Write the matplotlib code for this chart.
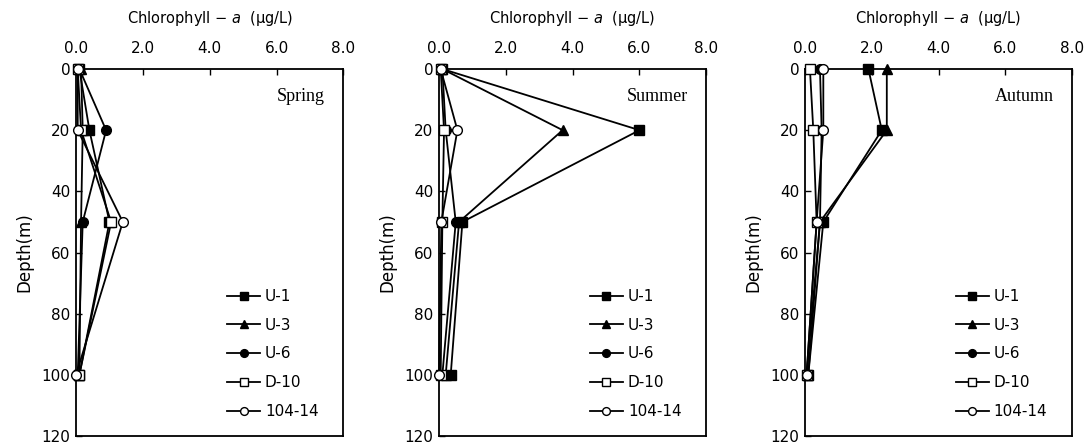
import matplotlib
matplotlib.use("Agg")
import matplotlib.pyplot as plt

depths = [0, 20, 50, 100]
stations = ["U-1", "U-3", "U-6", "D-10", "104-14"]
seasons = ["Spring", "Summer", "Autumn"]

spring_u1 = [0.10, 0.40, 1.00, 0.10]
spring_u3 = [0.15, 0.20, 0.15, 0.10]
spring_u6 = [0.10, 0.90, 0.20, 0.05]
spring_d10 = [0.05, 0.15, 1.05, 0.10]
spring_104 = [0.05, 0.05, 1.40, 0.00]

summer_u1 = [0.10, 6.00, 0.70, 0.35]
summer_u3 = [0.10, 3.70, 0.60, 0.20]
summer_u6 = [0.10, 0.20, 0.50, 0.10]
summer_d10 = [0.05, 0.15, 0.10, 0.05]
summer_104 = [0.05, 0.55, 0.07, 0.00]

autumn_u1 = [1.90, 2.30, 0.55, 0.10]
autumn_u3 = [2.45, 2.45, 0.45, 0.10]
autumn_u6 = [0.45, 0.50, 0.45, 0.05]
autumn_d10 = [0.15, 0.25, 0.35, 0.05]
autumn_104 = [0.55, 0.55, 0.35, 0.05]

x_ticks = [0, 2, 4, 6, 8]
x_ticklabels = ["0.0", "2.0", "4.0", "6.0", "8.0"]
y_ticks = [0, 20, 40, 60, 80, 100, 120]

data = {
    "Spring": [spring_u1, spring_u3, spring_u6, spring_d10, spring_104],
    "Summer": [summer_u1, summer_u3, summer_u6, summer_d10, summer_104],
    "Autumn": [autumn_u1, autumn_u3, autumn_u6, autumn_d10, autumn_104],
}

styles = [
    dict(marker="s", mfc="black"),
    dict(marker="^", mfc="black"),
    dict(marker="o", mfc="black"),
    dict(marker="s", mfc="white"),
    dict(marker="o", mfc="white"),
]

fig = plt.figure(figsize=(10.91, 4.44), dpi=100)
lefts = [0.0697, 0.4024, 0.7378]
width = 0.245
bottom = 0.018
height = 0.8266

for i, season in enumerate(seasons):
    ax = fig.add_axes([lefts[i], bottom, width, height])
    for j, st in enumerate(stations):
        ax.plot(data[season][j], depths, color="black", lw=1.3,
                marker=styles[j]["marker"], mfc=styles[j]["mfc"], mec="black",
                mew=1.0, ms=7, label=st, clip_on=False, zorder=3 + j * 0.1)
    ax.set_xlim(0, 8)
    ax.set_ylim(120, 0)
    ax.xaxis.tick_top()
    ax.xaxis.set_label_position("top")
    ax.set_xticks(x_ticks)
    ax.set_xticklabels(x_ticklabels)
    ax.set_yticks(y_ticks)
    ax.tick_params(direction="in", length=4, width=1, labelsize=11, pad=4)
    ax.tick_params(axis="x", pad=9)
    ax.set_xlabel("Chlorophyll − $\\it{a}$  (μg/L)", fontsize=10.5, labelpad=13)
    ax.set_ylabel("Depth(m)", fontsize=12, labelpad=6)
    for sp in ax.spines.values():
        sp.set_linewidth(1.3)
    ax.text(0.93, 0.925, season, transform=ax.transAxes, ha="right", va="center",
            fontsize=13, family="Liberation Serif")
    leg = ax.legend(loc="lower right", bbox_to_anchor=(0.93, 0.03), frameon=False,
                    fontsize=11, handlelength=2.2, handletextpad=0.3,
                    labelspacing=0.9, markerscale=0.8, borderaxespad=0)

fig.savefig("out.png", dpi=100)
